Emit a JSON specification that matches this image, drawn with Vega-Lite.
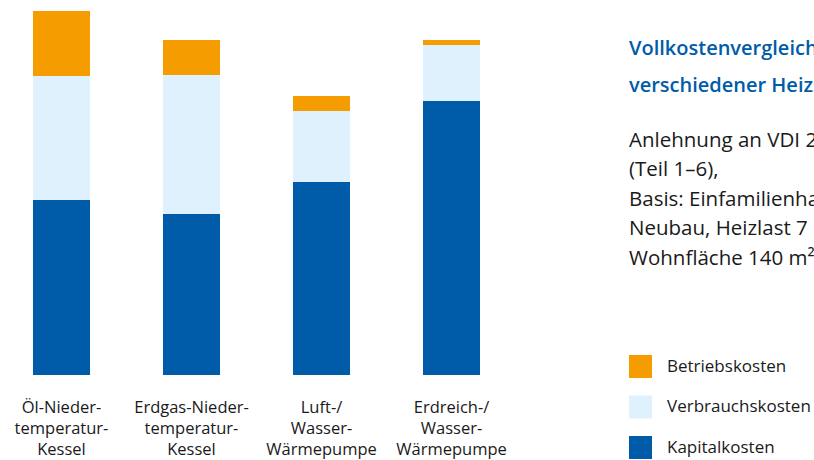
{
  "$schema": "https://vega.github.io/schema/vega-lite/v6.json",
  "width": 513,
  "height": 364,
  "autosize": {"type": "none"},
  "padding": {"left": 0, "top": 11, "right": 301, "bottom": 85},
  "background": "white",
  "config": {
    "font": "Open Sans",
    "view": {"stroke": null}
  },
  "title": {
    "text": ["Vollkostenvergleich", "verschiedener Heizsysteme"],
    "subtitle": ["Anlehnung an VDI 2067", "(Teil 1–6),", "Basis: Einfamilienhaus", "Neubau, Heizlast 7 kW,", "Wohnfläche 140 m²"],
    "anchor": "start",
    "frame": "group",
    "orient": "top",
    "dx": 629,
    "dy": 258,
    "offset": 0,
    "font": "Open Sans",
    "fontSize": 20,
    "fontWeight": 600,
    "color": "#005CA9",
    "lineHeight": 37,
    "subtitleFont": "Open Sans",
    "subtitleFontSize": 20.5,
    "subtitleColor": "#1a1a1a",
    "subtitleLineHeight": 29.5,
    "subtitlePadding": 35
  },
  "data": {
    "values": [
      {"anlage": "Öl-Nieder-|temperatur-|Kessel", "kostenart": "Kapitalkosten", "stufe": 1, "wert": 175},
      {"anlage": "Öl-Nieder-|temperatur-|Kessel", "kostenart": "Verbrauchskosten", "stufe": 2, "wert": 124},
      {"anlage": "Öl-Nieder-|temperatur-|Kessel", "kostenart": "Betriebskosten", "stufe": 3, "wert": 65},
      {"anlage": "Erdgas-Nieder-|temperatur-|Kessel", "kostenart": "Kapitalkosten", "stufe": 1, "wert": 161},
      {"anlage": "Erdgas-Nieder-|temperatur-|Kessel", "kostenart": "Verbrauchskosten", "stufe": 2, "wert": 139},
      {"anlage": "Erdgas-Nieder-|temperatur-|Kessel", "kostenart": "Betriebskosten", "stufe": 3, "wert": 35},
      {"anlage": "Luft-/|Wasser-|Wärmepumpe", "kostenart": "Kapitalkosten", "stufe": 1, "wert": 193},
      {"anlage": "Luft-/|Wasser-|Wärmepumpe", "kostenart": "Verbrauchskosten", "stufe": 2, "wert": 71},
      {"anlage": "Luft-/|Wasser-|Wärmepumpe", "kostenart": "Betriebskosten", "stufe": 3, "wert": 15},
      {"anlage": "Erdreich-/|Wasser-|Wärmepumpe", "kostenart": "Kapitalkosten", "stufe": 1, "wert": 274},
      {"anlage": "Erdreich-/|Wasser-|Wärmepumpe", "kostenart": "Verbrauchskosten", "stufe": 2, "wert": 56},
      {"anlage": "Erdreich-/|Wasser-|Wärmepumpe", "kostenart": "Betriebskosten", "stufe": 3, "wert": 5}
    ]
  },
  "mark": {"type": "bar"},
  "encoding": {
    "x": {
      "field": "anlage",
      "type": "nominal",
      "sort": null,
      "scale": {"paddingInner": 0.5615, "paddingOuter": 0.2538},
      "axis": {
        "title": null,
        "domain": false,
        "ticks": false,
        "labelAngle": 0,
        "labelExpr": "split(datum.label, '|')",
        "labelFont": "Open Sans",
        "labelFontSize": 16.5,
        "labelLineHeight": 21,
        "labelColor": "#1a1a1a",
        "labelPadding": 24,
        "labelBaseline": "top"
      }
    },
    "y": {
      "field": "wert",
      "type": "quantitative",
      "stack": "zero",
      "scale": {"domain": [0, 364], "nice": false, "zero": true},
      "axis": null
    },
    "color": {
      "field": "kostenart",
      "type": "nominal",
      "scale": {
        "domain": ["Betriebskosten", "Verbrauchskosten", "Kapitalkosten"],
        "range": ["#F59C00", "#DFF1FD", "#005CA9"]
      },
      "legend": {
        "title": null,
        "orient": "none",
        "legendX": 629,
        "legendY": 344,
        "symbolType": "square",
        "symbolSize": 529,
        "symbolStrokeWidth": 0,
        "symbolOpacity": 1,
        "rowPadding": 17.5,
        "labelOffset": 15,
        "labelFont": "Open Sans",
        "labelFontSize": 17,
        "labelColor": "#1a1a1a"
      }
    },
    "order": {"field": "stufe", "type": "quantitative"}
  }
}
